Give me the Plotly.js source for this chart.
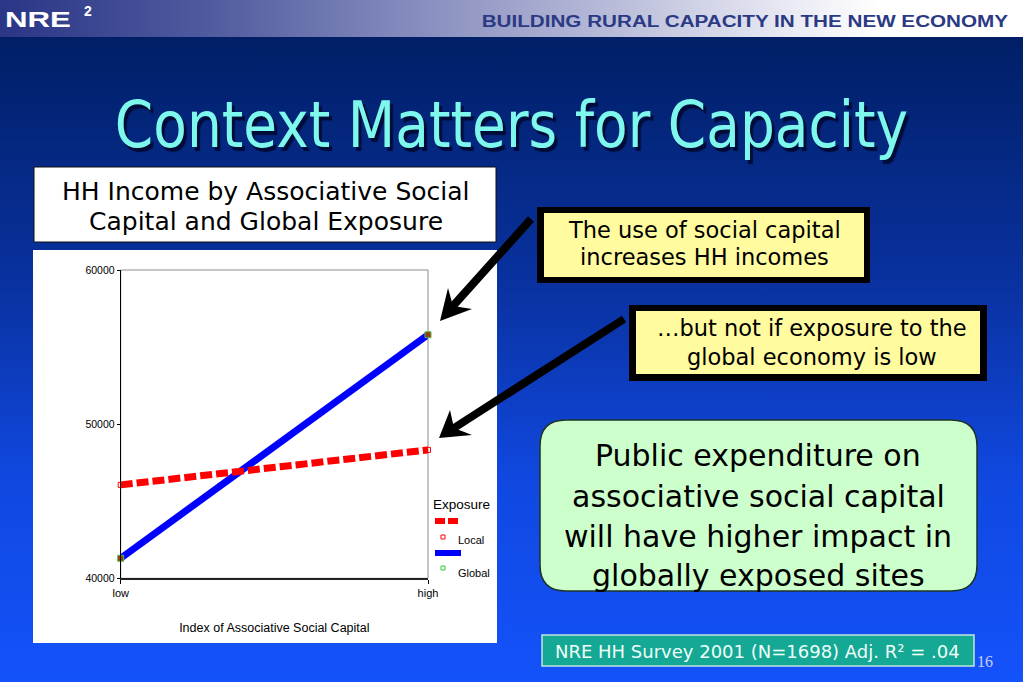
<!DOCTYPE html>
<html>
<head>
<meta charset="utf-8">
<script src="https://cdn.plot.ly/plotly-3.0.1.min.js"></script>
<style>
  html, body { margin: 0; padding: 0; overflow: hidden; }
  #slide { position: relative; width: 1023px; height: 682px;
    background: linear-gradient(180deg, #001d60 0px, #001f66 37px, #0a33a4 300px, #1048e0 480px, #1452fa 682px); }
  #hdr { position: absolute; left: 0; top: 0; width: 1023px; height: 37px;
    background: linear-gradient(90deg, #2a3686 0%, #4f5a9e 20%, #8a90c0 42%, #b9bcd9 60%, #e6e7f2 76%, #ffffff 86%, #ffffff 100%); }
  .hd { position: absolute; font-family: "Liberation Sans", Arial, sans-serif; font-weight: bold; white-space: nowrap; }
  #nre { left: 5px; top: 8px; font-size: 22px; color: #ffffff; transform: scaleX(1.42); transform-origin: left center; line-height: 24px; }
  #nre2 { left: 84px; top: 4px; font-size: 14px; color: #ffffff; line-height: 14px; }
  #brc { right: 15px; top: 12px; font-size: 16px; color: #2b3a84; transform: scaleX(1.29); transform-origin: right center; line-height: 20px; }
  #ttl { position: absolute; left: 0; width: 1023px; top: 88px; text-align: center;
    font-family: "DejaVu Sans", Verdana, sans-serif; font-size: 55px; line-height: 64px; color: #7ef8ec;
    text-shadow: 3px 3px 1px #000c38; transform: scaleY(1.16); transform-origin: center top; white-space: nowrap; }
  #plot { position: absolute; left: 0; top: 0; width: 1023px; height: 682px; }
</style>
</head>
<body>
<div id="slide">
  <div id="hdr">
    <div class="hd" id="nre">NRE</div>
    <div class="hd" id="nre2">2</div>
    <div class="hd" id="brc">BUILDING RURAL CAPACITY IN THE NEW ECONOMY</div>
  </div>
  <div id="ttl">Context Matters for Capacity</div>
  <div id="plot"></div>
</div>
<script>
// ---- data ----
const categories = ['low', 'high'];
const localIncome = [46060, 48330];
const globalIncome = [41300, 55800];
const seriesNames = ['Local', 'Global'];
const yTickVals = [40000, 50000, 60000];
const yTickText = ['40000', '50000', '60000'];
const legendTitle = 'Exposure';
const xAxisTitle = 'Index of Associative Social Capital';
const chartTitleLines = ['HH Income by Associative Social', 'Capital and Global Exposure'];
const callout1Lines = ['The use of social capital', 'increases HH incomes'];
const callout2Lines = ['\u2026but not if exposure to the', 'global economy is low'];
const conclusionLines = ['Public expenditure on', 'associative social capital', 'will have higher impact in', 'globally exposed sites'];
const sourceNote = 'NRE HH Survey 2001 (N=1698) Adj. R\u00b2 = .04';
const pageNumber = '16';

// ---- pixel helpers ----
const W = 1023, H = 682;
const X = p => p / W;
const Y = p => 1 - p / H;
const poly = pts => 'M ' + pts.map(([a, b]) => X(a) + ',' + Y(b)).join(' L ') + ' Z';
function roundRect(x0, y0, x1, y1, r) {
  const p = (a, b) => X(a) + ',' + Y(b);
  return 'M ' + p(x0 + r, y0) + ' L ' + p(x1 - r, y0) + ' Q ' + p(x1, y0) + ' ' + p(x1, y0 + r) +
    ' L ' + p(x1, y1 - r) + ' Q ' + p(x1, y1) + ' ' + p(x1 - r, y1) +
    ' L ' + p(x0 + r, y1) + ' Q ' + p(x0, y1) + ' ' + p(x0, y1 - r) +
    ' L ' + p(x0, y0 + r) + ' Q ' + p(x0, y0) + ' ' + p(x0 + r, y0) + ' Z';
}
const rect = (x0, y0, x1, y1, fill, line) => ({
  type: 'rect', xref: 'paper', yref: 'paper', layer: 'below',
  x0: X(x0), x1: X(x1), y0: Y(y1), y1: Y(y0),
  fillcolor: fill, line: line || { width: 0 }
});
const seg = (x0, y0, x1, y1, color, width, dash) => ({
  type: 'line', xref: 'paper', yref: 'paper', layer: 'below',
  x0: X(x0), y0: Y(y0), x1: X(x1), y1: Y(y1),
  line: { color: color, width: width, dash: dash || 'solid' }
});
const pathShape = (d, fill, line) => ({
  type: 'path', xref: 'paper', yref: 'paper', layer: 'below', path: d,
  fillcolor: fill, line: line || { width: 0 }
});

// plot area in pixels
const PL = 120.7, PR = 428, PT = 270, PB = 578.3;

const traces = [
  {
    x: categories, y: globalIncome, name: seriesNames[1], type: 'scatter', mode: 'lines+markers',
    line: { color: '#0000ff', width: 7 },
    marker: { symbol: 'square', size: 6, color: '#9a3a10', line: { color: '#4cc04c', width: 1 } },
    cliponaxis: false, hoverinfo: 'x+y+name'
  },
  {
    x: categories, y: localIncome, name: seriesNames[0], type: 'scatter', mode: 'lines+markers',
    line: { color: '#ff0000', width: 7, dash: '12px,4px' },
    marker: { symbol: 'square-open', size: 5, color: '#ff0000' },
    cliponaxis: false, hoverinfo: 'x+y+name'
  }
];

const shapes = [
  rect(34, 167, 496, 242, '#ffffff', { color: '#111111', width: 1 }),
  rect(33, 250, 497, 643, '#ffffff'),
  rect(PL, PT, PR, PB, 'rgba(0,0,0,0)', { color: '#8c8c8c', width: 1 }),
  rect(537, 207, 870, 283, '#000000'),
  rect(544, 213, 864, 277, '#fffb9e'),
  rect(629, 305, 987, 381, '#000000'),
  rect(636, 311, 980, 374, '#fffb9e'),
  pathShape(roundRect(540, 420, 977, 591, 26), '#ccffcc', { color: '#1c3324', width: 1.5 }),
  rect(542, 635, 974, 666, '#14a895', { color: '#bfe8de', width: 1.5 }),
  seg(531, 219, 453, 306, '#000000', 8),
  pathShape(poly([[440, 321], [448, 288], [453, 306], [472, 309]]), '#000000'),
  seg(624, 319, 454, 428, '#000000', 8),
  pathShape(poly([[439, 438], [450, 410], [454, 428], [472, 435]]), '#000000'),
  seg(435, 521, 461, 521, '#ff0000', 6, '10px,3px'),
  rect(441, 535, 445, 539, 'rgba(0,0,0,0)', { color: '#ff0000', width: 1 }),
  seg(435, 553, 461, 553, '#0000ff', 6),
  rect(441, 566, 445, 570, 'rgba(0,0,0,0)', { color: '#33cc33', width: 1 })
];

const ann = (text, x, y, size, color, family, xanchor) => ({
  text: text, xref: 'paper', yref: 'paper', x: X(x), y: Y(y),
  xanchor: xanchor || 'center', yanchor: 'middle', showarrow: false,
  font: { family: family || 'DejaVu Sans, Verdana, sans-serif', size: size, color: color || '#000000' }
});

const annotations = [
  ann(chartTitleLines[0], 266, 192, 25),
  ann(chartTitleLines[1], 266, 222, 25),
  ann(callout1Lines[0], 704, 230, 22.5),
  ann(callout1Lines[1], 704, 257, 22.5),
  ann(callout2Lines[0], 812, 328, 22.5),
  ann(callout2Lines[1], 812, 357, 22.5),
  ann(conclusionLines[0], 758, 455, 30),
  ann(conclusionLines[1], 758, 496, 30),
  ann(conclusionLines[2], 758, 536, 30),
  ann(conclusionLines[3], 758, 575, 30),
  ann(sourceNote, 757, 651, 18, '#f0fff8'),
  ann(pageNumber, 975, 661, 16, '#c8d0ff', 'Liberation Serif, Times New Roman, serif', 'left'),
  ann(legendTitle, 431, 504, 13.5, '#000000', 'Liberation Sans, Arial, sans-serif', 'left'),
  ann(seriesNames[0], 456, 540, 11, '#000000', 'Liberation Sans, Arial, sans-serif', 'left'),
  ann(seriesNames[1], 456, 573, 11, '#000000', 'Liberation Sans, Arial, sans-serif', 'left')
];

const layout = {
  width: W, height: H,
  margin: { l: 0, r: 0, t: 0, b: 0, pad: 0 },
  paper_bgcolor: 'rgba(0,0,0,0)',
  plot_bgcolor: '#ffffff',
  showlegend: false,
  xaxis: {
    domain: [X(PL), X(PR)], type: 'category', categoryorder: 'array', categoryarray: categories,
    range: [0, 1], showgrid: false, zeroline: false,
    showline: true, linecolor: '#222222', linewidth: 1.5,
    ticks: 'outside', ticklen: 4, tickcolor: '#000000', tickwidth: 1,
    tickfont: { family: 'Liberation Sans, Arial, sans-serif', size: 11, color: '#000000' },
    title: { text: xAxisTitle, standoff: 25, font: { family: 'Liberation Sans, Arial, sans-serif', size: 12.5, color: '#000000' } },
    fixedrange: true
  },
  yaxis: {
    domain: [Y(PB), Y(PT)], range: [40000, 60000],
    tickmode: 'array', tickvals: yTickVals, ticktext: yTickText,
    showgrid: false, zeroline: false,
    showline: true, linecolor: '#000000', linewidth: 1,
    ticks: 'outside', ticklen: 3, tickcolor: '#000000',
    tickfont: { family: 'Liberation Sans, Arial, sans-serif', size: 10.5, color: '#000000' },
    fixedrange: true
  },
  shapes: shapes,
  annotations: annotations
};

Plotly.newPlot('plot', traces, layout, { displayModeBar: false, staticPlot: true });
</script>
</body>
</html>
